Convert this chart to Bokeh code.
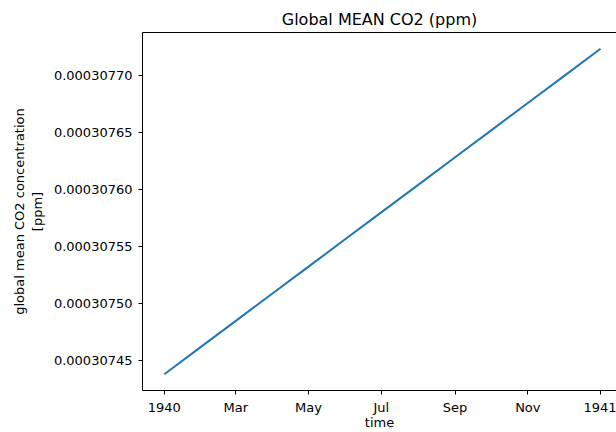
import datetime as dt
from bokeh.plotting import figure
from bokeh.models import FixedTicker, PrintfTickFormatter, LinearAxis, Range1d
from bokeh.embed import file_html
from bokeh.resources import INLINE

# ---- data ----
dates = ["1940-01-01", "1940-02-01", "1940-03-01", "1940-04-01", "1940-05-01",
         "1940-06-01", "1940-07-01", "1940-08-01", "1940-09-01", "1940-10-01",
         "1940-11-01", "1940-12-01", "1941-01-01"]
co2 = [0.00030743815, 0.00030746229, 0.00030748488, 0.00030750902, 0.00030753239,
       0.00030755653, 0.00030757989, 0.00030760403, 0.00030762818, 0.00030765154,
       0.00030767568, 0.00030769905, 0.0003077232]
y_ticks = [0.00030745, 0.00030750, 0.00030755, 0.00030760, 0.00030765, 0.00030770]
x_tick_dates = ["1940-01-01", "1940-03-01", "1940-05-01", "1940-07-01",
                "1940-09-01", "1940-11-01", "1941-01-01"]
x_tick_labels = ["1940", "Mar", "May", "Jul", "Sep", "Nov", "1941"]

FONT = "DejaVu Sans"
EPOCH = dt.datetime(1970, 1, 1)


def to_dt(s):
    return dt.datetime.strptime(s, "%Y-%m-%d")


def to_ms(d):
    return (d - EPOCH).total_seconds() * 1000.0


xs = [to_dt(d) for d in dates]
x_span = xs[-1] - xs[0]
x_start = xs[0] - x_span * 0.05
x_end = xs[-1] + dt.timedelta(days=13.4)

ymin, ymax = min(co2), max(co2)
ypad = (ymax - ymin) * 0.05

p = figure(width=616, height=432, x_axis_type="datetime",
           x_range=Range1d(start=x_start, end=x_end),
           y_range=Range1d(start=ymin - ypad, end=ymax + ypad),
           output_backend="svg", toolbar_location=None,
           min_border_left=142, min_border_right=0, min_border_top=32,
           min_border_bottom=40)

p.line(xs, co2, line_color="#1f77b4", line_width=2)

p.title.text = "Global MEAN CO2 (ppm)"
p.title.text_font = FONT
p.title.text_font_size = "16px"
p.title.text_font_style = "normal"
p.title.text_color = "black"
p.title.align = "center"
p.title.standoff = 7

p.outline_line_color = None
p.xgrid.visible = False
p.ygrid.visible = False
p.background_fill_color = "white"
p.border_fill_color = "white"

# x axis
xa = p.xaxis[0]
tick_ms = [to_ms(to_dt(d)) for d in x_tick_dates]
xa.ticker = FixedTicker(ticks=tick_ms, minor_ticks=[])
xa.major_label_overrides = {t: lab for t, lab in zip(tick_ms, x_tick_labels)}
xa.axis_label = "time"

# y axis
ya = p.yaxis[0]
ya.ticker = FixedTicker(ticks=y_ticks, minor_ticks=[])
ya.formatter = PrintfTickFormatter(format="%.8f")
ya.axis_label = "global mean CO2 concentration\n[ppm]"

for ax in (xa, ya):
    ax.axis_line_color = "black"
    ax.axis_line_width = 1
    ax.major_tick_line_color = "black"
    ax.major_tick_out = 4
    ax.major_tick_in = 0
    ax.minor_tick_line_color = None
    ax.major_label_text_font = FONT
    ax.major_label_text_font_size = "13px"
    ax.major_label_text_color = "black"
    ax.axis_label_text_font = FONT
    ax.axis_label_text_font_size = "13px"
    ax.axis_label_text_font_style = "normal"
    ax.axis_label_text_color = "black"

xa.major_label_standoff = 5
xa.axis_label_standoff = -3
ya.major_label_standoff = 6
ya.axis_label_standoff = 6

# top spine
top = LinearAxis(ticker=FixedTicker(ticks=[]), major_tick_out=0, major_tick_in=0,
                 minor_tick_out=0, minor_tick_in=0,
                 major_label_text_font_size="0px", axis_line_color="black",
                 axis_line_width=1)
p.add_layout(top, "above")

open("out.html", "w").write(file_html(p, INLINE))
